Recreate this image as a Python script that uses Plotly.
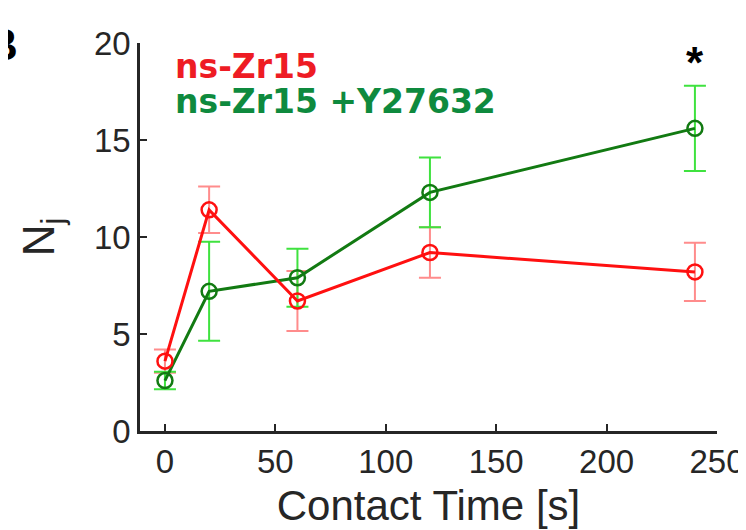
import plotly.graph_objects as go

# Data
contact_time = [0, 20, 60, 120, 240]
zr15_mean = [3.6, 11.4, 6.7, 9.2, 8.2]
zr15_err = [0.6, 1.2, 1.55, 1.3, 1.5]
zr15y_mean = [2.6, 7.2, 7.9, 12.3, 15.6]
zr15y_err = [0.45, 2.55, 1.5, 1.8, 2.2]

x_ticks = [0, 50, 100, 150, 200, 250]
y_ticks = [0, 5, 10, 15, 20]

RED = "#FF1010"
RED_LIGHT = "#FF8C8C"
GREEN = "#127A12"
GREEN_LIGHT = "#3FE23F"
AXIS = "#262626"
FONT = "Liberation Sans, Arial, sans-serif"
LEG_FONT = "DejaVu Sans, Verdana, sans-serif"

fig = go.Figure()

# error bars (drawn beneath lines)
for y, e, c in [(zr15_mean, zr15_err, RED_LIGHT), (zr15y_mean, zr15y_err, GREEN_LIGHT)]:
    fig.add_trace(go.Scatter(
        x=contact_time, y=y, mode="markers",
        marker=dict(size=1, color="rgba(0,0,0,0)"),
        error_y=dict(type="data", array=e, visible=True, color=c, thickness=2, width=11),
        showlegend=False, hoverinfo="skip", cliponaxis=False,
    ))

for y, c, name in [(zr15y_mean, GREEN, "ns-Zr15 +Y27632"), (zr15_mean, RED, "ns-Zr15")]:
    fig.add_trace(go.Scatter(
        x=contact_time, y=y, mode="lines+markers", name=name,
        line=dict(color=c, width=3),
        marker=dict(symbol="circle-open", size=15, color=c, line=dict(width=2.5, color=c)),
        showlegend=False, cliponaxis=False,
    ))

fig.update_layout(
    width=746, height=530,
    margin=dict(l=132, r=37, t=35, b=107),
    paper_bgcolor="white", plot_bgcolor="white",
    font=dict(family=FONT, color=AXIS),
    xaxis=dict(
        range=[-11.3, 250], tickvals=x_ticks, ticks="inside", ticklen=7, tickwidth=2,
        tickcolor=AXIS, showline=True, linecolor=AXIS, linewidth=2.5, showgrid=False,
        zeroline=False, automargin=False, tickfont=dict(size=33, color=AXIS, family=FONT),
        title=dict(text="Contact Time [s]", font=dict(size=42, color=AXIS, family=FONT), standoff=12),
    ),
    yaxis=dict(
        range=[0, 20], tickvals=y_ticks, ticks="inside", ticklen=7, tickwidth=2,
        tickcolor=AXIS, showline=True, linecolor=AXIS, linewidth=2.5, showgrid=False,
        zeroline=False, automargin=False, tickfont=dict(size=33, color=AXIS, family=FONT),
        title=dict(text="N<sub>j</sub>", font=dict(size=44, color=AXIS, family=FONT), standoff=26),
    ),
    annotations=[
        dict(text="<b>ns-Zr15</b>", xref="paper", yref="paper", x=0.058, y=0.9407,
             xanchor="left", yanchor="middle", showarrow=False,
             font=dict(family=LEG_FONT, size=33, color="#EE1C24")),
        dict(text="<b>ns-Zr15 +Y27632</b>", xref="paper", yref="paper", x=0.058, y=0.848,
             xanchor="left", yanchor="middle", showarrow=False,
             font=dict(family=LEG_FONT, size=33, color="#0E8A3E")),
        dict(text="<b>*</b>", xref="x", yref="y", x=240, y=19.0,
             xanchor="center", yanchor="middle", showarrow=False,
             font=dict(family=FONT, size=44, color="black")),
        dict(text="<b>B</b>", xref="paper", yref="paper", x=-0.208, y=0.995,
             xanchor="right", yanchor="middle", showarrow=False,
             font=dict(family=FONT, size=44, color="black")),
    ],
)

fig.write_html("out.html")
